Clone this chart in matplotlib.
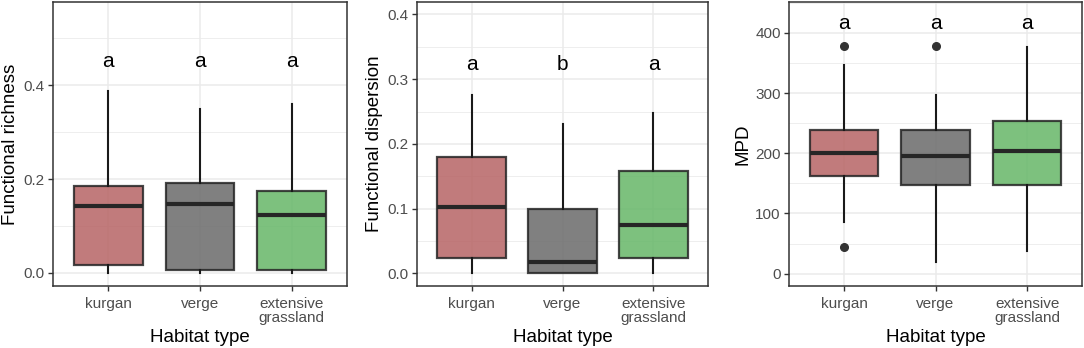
import numpy as np
import matplotlib.pyplot as plt
from matplotlib.ticker import MultipleLocator

plt.rcParams['font.family'] = ['Liberation Sans', 'DejaVu Sans']

#==============================================================================
#                         Data
#==============================================================================
habitats = ['kurgan', 'verge', 'extensive\ngrassland']
colors   = ['#B76465', '#6A6A6A', '#66B768']

# whislo, q1, med, q3, whishi
fric_stats = [[0.0, 0.016, 0.143, 0.186, 0.388],
              [0.0, 0.006, 0.147, 0.191, 0.350],
              [0.0, 0.006, 0.123, 0.174, 0.360]]
fric_letters = ['a', 'a', 'a']

fdis_stats = [[0.0, 0.023, 0.103, 0.180, 0.276],
              [0.0, 0.000, 0.018, 0.099, 0.231],
              [0.0, 0.023, 0.075, 0.158, 0.247]]
fdis_letters = ['a', 'b', 'a']

mpd_stats = [[86, 162, 200, 238, 347],
             [20, 147, 196, 238, 297],
             [38, 147, 203, 254, 377]]
mpd_fliers = [[378, 44], [378], []]
mpd_letters = ['a', 'a', 'a']

#==============================================================================
#                         Plotting
#==============================================================================
fig = plt.figure(figsize=(10.84, 3.48), dpi=100)

panels = [
    dict(rect=[0.0489, 0.178, 0.2712, 0.816], stats=fric_stats, fliers=[[], [], []],
         letters=fric_letters, ylab='Functional richness', ylim=(-0.028, 0.577),
         major=0.2, minor=0.1, fmt='%.1f', yl=0.45),
    dict(rect=[0.3847, 0.178, 0.2685, 0.816], stats=fdis_stats, fliers=[[], [], []],
         letters=fdis_letters, ylab='Functional dispersion', ylim=(-0.0196, 0.419),
         major=0.1, minor=0.05, fmt='%.1f', yl=0.322),
    dict(rect=[0.7279, 0.178, 0.2703, 0.816], stats=mpd_stats, fliers=mpd_fliers,
         letters=mpd_letters, ylab='MPD', ylim=(-20.5, 451),
         major=100, minor=50, fmt='%d', yl=416),
]

for p in panels:
    ax = fig.add_axes(p['rect'])
    bxp_stats = []
    for s, fl in zip(p['stats'], p['fliers']):
        bxp_stats.append(dict(whislo=s[0], q1=s[1], med=s[2], q3=s[3], whishi=s[4],
                              fliers=fl))
    bp = ax.bxp(bxp_stats, positions=[1, 2, 3], widths=0.75, patch_artist=True,
                showcaps=False,
                boxprops=dict(edgecolor='#262626', linewidth=1.6),
                medianprops=dict(color='#262626', linewidth=3.0, solid_capstyle='butt'),
                whiskerprops=dict(color='#1a1a1a', linewidth=1.5),
                flierprops=dict(marker='o', markerfacecolor='#333333',
                                markeredgecolor='#333333', markersize=5.5))
    for patch, c in zip(bp['boxes'], colors):
        patch.set_facecolor(c)
        patch.set_alpha(0.85)
        patch.set_edgecolor('#262626')
    for i, let in enumerate(p['letters']):
        ax.text(i + 1, p['yl'], let, ha='center', va='center', fontsize=15, color='black')

    ax.set_xlim(0.4, 3.6)
    ax.set_ylim(*p['ylim'])
    ax.yaxis.set_major_locator(MultipleLocator(p['major']))
    ax.yaxis.set_minor_locator(MultipleLocator(p['minor']))
    ax.yaxis.set_major_formatter(plt.FormatStrFormatter(p['fmt']))
    ax.set_xticks([1, 2, 3])
    ax.set_xticklabels(habitats, linespacing=1.0)
    ax.grid(which='major', color='#EBEBEB', linewidth=1.1)
    ax.grid(which='minor', axis='y', color='#EBEBEB', linewidth=0.6)
    ax.set_axisbelow(True)
    for sp in ax.spines.values():
        sp.set_color('#333333')
        sp.set_linewidth(1.1)
    ax.tick_params(which='major', length=3.5, width=1.0, color='#333333',
                   labelcolor='#4D4D4D', labelsize=11, pad=2.5)
    ax.tick_params(axis='x', which='major', pad=4.5)
    ax.tick_params(which='minor', length=0)
    ax.set_xlabel('Habitat type', fontsize=13.5, labelpad=3)
    ax.set_ylabel(p['ylab'], fontsize=13.5, labelpad=3)

plt.savefig('out.png', dpi=100)
